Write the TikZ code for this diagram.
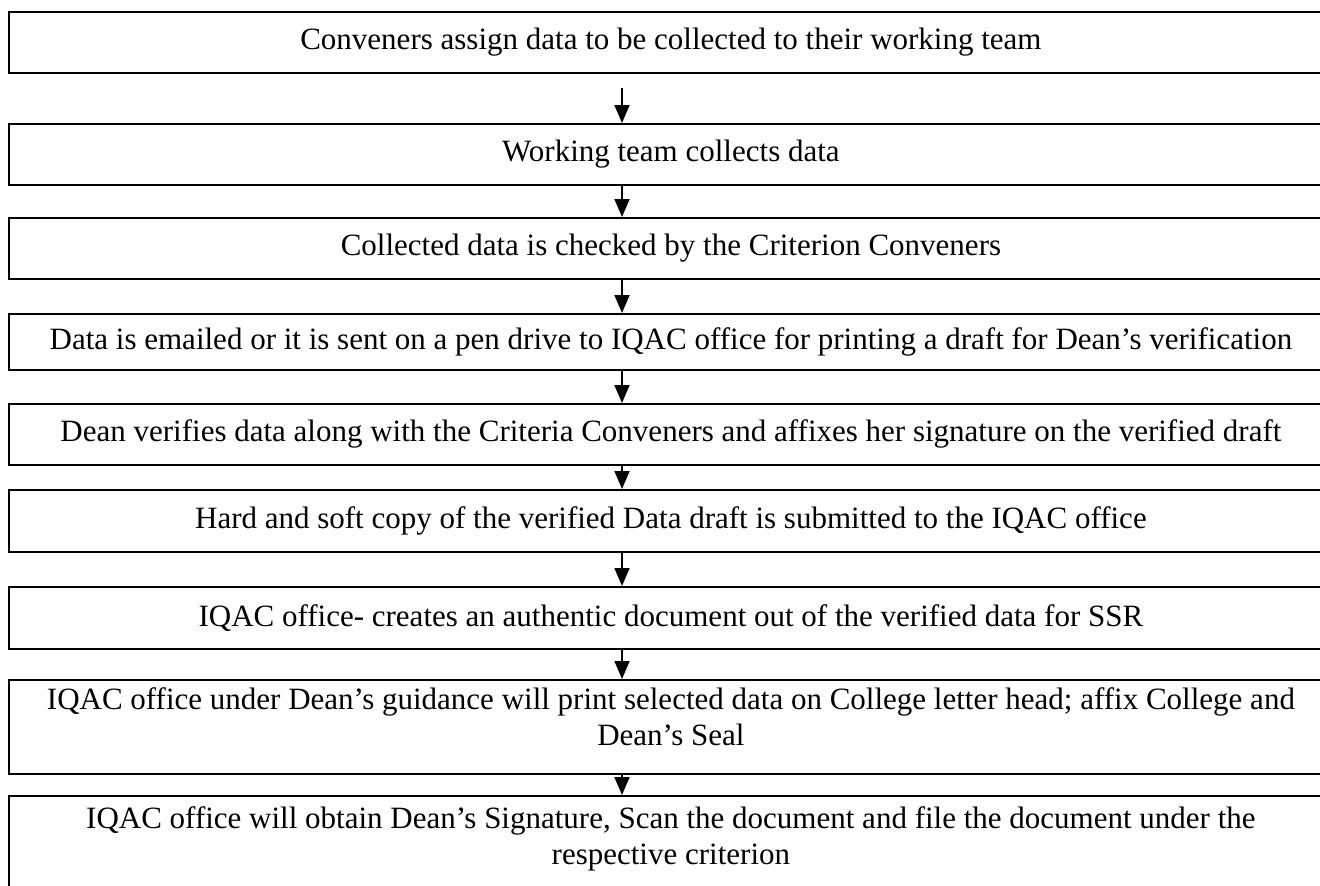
\documentclass[tikz,border=0pt]{standalone}
\usepackage{fontspec}
\setmainfont{Liberation Serif}
\usetikzlibrary{arrows.meta}
\begin{document}
\begin{tikzpicture}[x=1pt,y=-1pt,
  stepbox/.style={draw=black, line width=1.8pt, anchor=north west, minimum width=1324pt,
    align=center, inner sep=0pt, font=\fontsize{31}{36}\selectfont},
  arr/.style={line width=1.8pt, -{Triangle[width=15pt,length=18pt]}}]
\useasboundingbox (0,0) rectangle (1320,886);
\node[stepbox, minimum height=61pt] (b1) at (8,11) {Conveners assign data to be collected to their working team};
\node[stepbox, minimum height=61pt] (b2) at (8,123) {Working team collects data};
\node[stepbox, minimum height=61pt] (b3) at (8,217) {Collected data is checked by the Criterion Conveners};
\node[stepbox, minimum height=56pt] (b4) at (8,313) {Data is emailed or it is sent on a pen drive to IQAC office for printing a draft for Dean’s verification\rule[-5pt]{0pt}{0pt}};
\node[stepbox, minimum height=61pt] (b5) at (8,403) {Dean verifies data along with the Criteria Conveners and affixes her signature on the verified draft};
\node[stepbox, minimum height=62pt] (b6) at (8,489) {Hard and soft copy of the verified Data draft is submitted to the IQAC office};
\node[stepbox, minimum height=62pt] (b7) at (8,586) {IQAC office- creates an authentic document out of the verified data for SSR};
\node[stepbox, minimum height=94pt] (b8) at (8,679) {IQAC office under Dean’s guidance will print selected data on College letter head; affix College and\\ Dean’s Seal\rule[-20pt]{0pt}{0pt}};
\node[stepbox, minimum height=94pt] (b9) at (8,795) {IQAC office will obtain Dean’s Signature, Scan the document and file the document under the\\ respective criterion\rule[-15pt]{0pt}{0pt}};
\coordinate (ax) at (622,0);
\coordinate (s1) at (622,88);
\draw[arr] (s1) -- (b2.north -| ax);
\draw[arr] (b2.south -| ax) -- (b3.north -| ax);
\draw[arr] (b3.south -| ax) -- (b4.north -| ax);
\draw[arr] (b4.south -| ax) -- (b5.north -| ax);
\draw[arr] (b5.south -| ax) -- (b6.north -| ax);
\draw[arr] (b6.south -| ax) -- (b7.north -| ax);
\draw[arr] (b7.south -| ax) -- (b8.north -| ax);
\draw[arr] (b8.south -| ax) -- (b9.north -| ax);
\end{tikzpicture}
\end{document}
